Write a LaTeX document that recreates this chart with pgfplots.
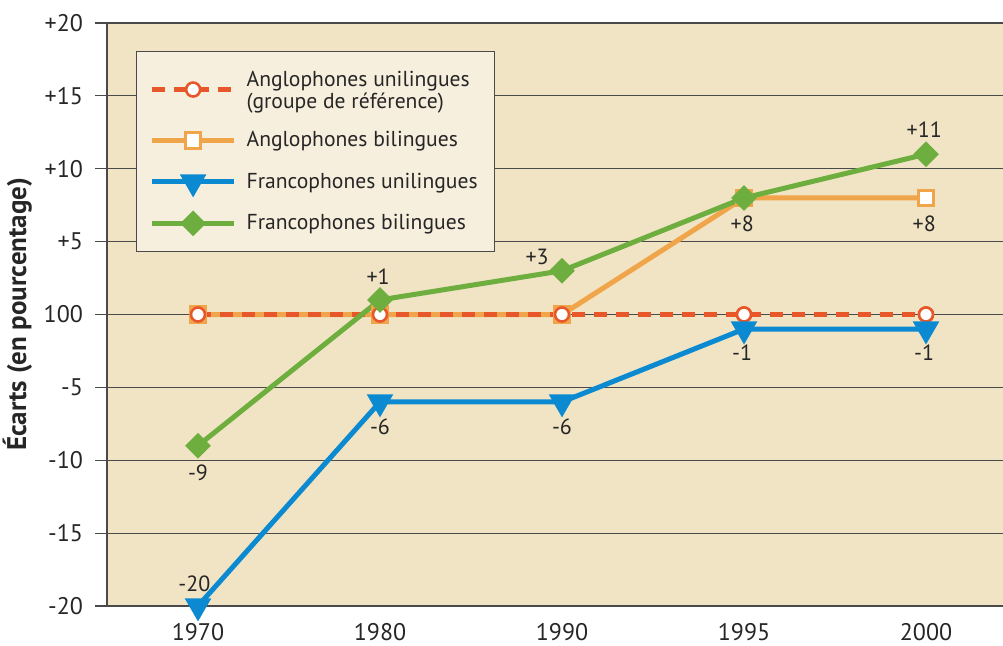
\documentclass[border=0pt]{standalone}
\usepackage{pgfplots}
\pgfplotsset{compat=1.18}
\usepackage{fontspec}
\setmainfont{PT Sans}
\definecolor{bg}{HTML}{F1E4C4}
\definecolor{legbg}{HTML}{F7EFDE}
\definecolor{gridc}{HTML}{4A4A4A}
\definecolor{ored}{HTML}{E8572A}
\definecolor{lorange}{HTML}{F0A54A}
\definecolor{fblue}{HTML}{0B8AD2}
\definecolor{fgreen}{HTML}{6DAE3F}
\begin{document}
\begin{tikzpicture}
\begin{axis}[
  scale only axis, width=448pt, height=291.5pt,
  xmin=-0.5, xmax=4.423, ymin=-20, ymax=20,
  axis x line*=bottom, axis y line*=left,
  axis line style={-, draw=gridc, line width=0.7pt},
  axis background/.style={fill=bg},
  xtick={0,...,4}, xticklabels={1970,1980,1990,1995,2000},
  major x tick style={draw=none},
  extra x ticks={-0.5,0.5,1.5,2.5,3.5},
  extra x tick labels={},
  extra x tick style={grid=none, major tick length=7pt, tick align=outside,
     tick style={draw=gridc, line width=0.6pt}},
  ytick={-20,-15,...,20},
  yticklabels={-20,-15,-10,-5,100,+5,+10,+15,+20},
  ymajorgrids, grid style={draw=gridc, line width=0.6pt},
  tick align=outside, major tick length=6pt,
  major y tick style={draw=gridc, line width=0.6pt},
  tick label style={font=\fontsize{12}{14}\selectfont, text=black!85},
  yticklabel style={xshift=-2.5pt},
  xticklabel style={inner ysep=0pt, yshift=-2.6pt},
  ylabel={Écarts (en pourcentage)},
  ylabel style={at={(axis description cs:-0.1,0.5)}, anchor=center,
     font=\bfseries\fontsize{13.5}{15}\selectfont, text=black!85},
  legend style={at={(axis description cs:0.0324,0.952)}, anchor=north west,
     fill=legbg, draw=gridc, line width=0.6pt, inner xsep=6.5pt, inner ysep=7.5pt,
     row sep=7.5pt, column sep=3pt,
     font=\fontsize{10.8}{13}\selectfont, text=black!85},
  legend cell align=left,
  legend image code/.code={\draw[mark repeat=2,mark phase=2,#1]
     plot coordinates {(0pt,0pt) (20.5pt,0pt) (41pt,0pt)};},
]
% Anglophones unilingues (legend entry)
\addplot[color=ored, line width=2.5pt, dash pattern=on 6.5pt off 4.5pt,
   mark=*, mark size=3.5pt, mark options={solid, fill=white, draw=ored, line width=1.3pt}]
   coordinates {(0,0) (1,0) (2,0) (3,0) (4,0)};
\addlegendentry{\raisebox{3.5pt}{\fontsize{10.8}{11.2}\selectfont\begin{tabular}{@{}l@{}}Anglophones unilingues\\(groupe de référence)\end{tabular}}}
% Anglophones bilingues
\addplot[color=lorange, line width=2.5pt,
   mark=square*, mark size=3.9pt, mark options={fill=white, draw=lorange, line width=1.5pt}]
   coordinates {(0,0) (1,0) (2,0) (3,8) (4,8)};
\addlegendentry{Anglophones bilingues}
% redraw unilingues on top
\addplot[forget plot, color=ored, line width=2.5pt, dash pattern=on 6.5pt off 4.5pt,
   mark=*, mark size=3.5pt, mark options={solid, fill=white, draw=ored, line width=1.3pt}]
   coordinates {(0,0) (1,0) (2,0) (3,0) (4,0)};
% Francophones unilingues
\addplot[color=fblue, line width=2.5pt,
   mark=triangle*, mark size=5.2pt, mark options={rotate=180, fill=fblue, draw=none}]
   coordinates {(0,-20) (1,-6) (2,-6) (3,-1) (4,-1)};
\addlegendentry{Francophones unilingues}
% Francophones bilingues
\addplot[color=fgreen, line width=2.5pt,
   mark=square*, mark size=3.3pt, mark options={rotate=45, fill=fgreen, draw=none}]
   coordinates {(0,-9) (1,1) (2,3) (3,8) (4,11)};
\addlegendentry{Francophones bilingues}
% value labels
\begin{scope}[every node/.style={font=\fontsize{11}{13}\selectfont, text=black!85}]
\node at (axis cs:-0.02,-18.46) {-20};
\node at (axis cs:0,-10.84) {-9};
\node at (axis cs:0.99,2.57) {+1};
\node at (axis cs:1,-7.68) {-6};
\node at (axis cs:1.863,3.98) {+3};
\node at (axis cs:2,-7.68) {-6};
\node at (axis cs:2.99,6.24) {+8};
\node at (axis cs:2.99,-2.61) {-1};
\node at (axis cs:3.99,12.69) {+11};
\node at (axis cs:3.99,6.24) {+8};
\node at (axis cs:3.99,-2.61) {-1};
\end{scope}
\end{axis}
\pgfresetboundingbox
\path (-53.5pt,-19.5pt) rectangle (448pt,303pt);
\end{tikzpicture}
\end{document}
